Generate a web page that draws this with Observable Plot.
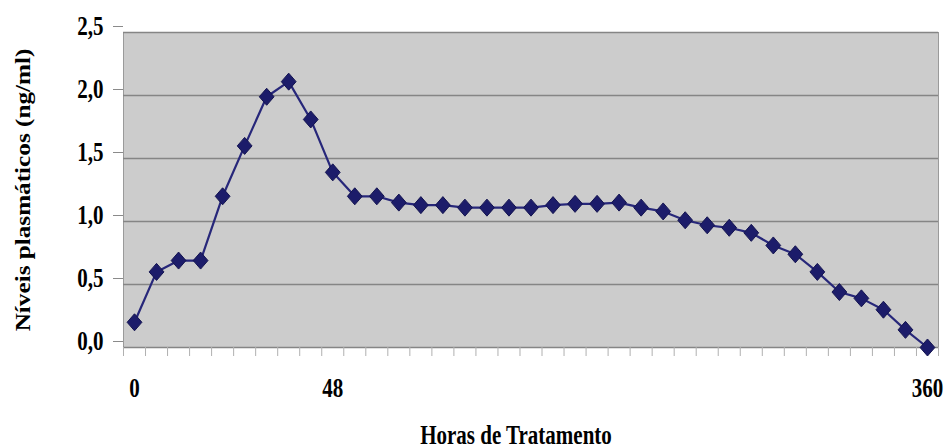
<!DOCTYPE html>
<html><head><meta charset="utf-8">
<script src="https://cdn.jsdelivr.net/npm/d3@7"></script>
<script src="https://cdn.jsdelivr.net/npm/@observablehq/plot@0.6"></script>
<style>body{margin:0;background:#fff}</style>
</head><body><div id="chart"></div>
<script>
// Plasma levels per category (37 sampling points)
const values = [0.20,0.60,0.69,0.69,1.20,1.60,1.99,2.11,1.81,1.39,1.20,1.20,1.15,1.13,1.13,1.11,1.11,1.11,1.11,1.13,1.14,1.14,1.15,1.11,1.08,1.01,0.97,0.95,0.91,0.81,0.74,0.60,0.44,0.39,0.30,0.14,0.00];
const xLabels = ["0","","","","","","","","","48","","","","","","","","","","","","","","","","","","","","","","","","","","","360"];
const yTicks = [0, 0.5, 1, 1.5, 2, 2.5];
const xTitle = "Horas de Tratamento";
const yTitle = "Níveis plasmáticos (ng/ml)";

const data = values.map((v, i) => ({i, v}));
const boundaries = d3.range(values.length + 1).map(i => i - 0.5);
const labeled = xLabels.map((l, i) => l ? i : null).filter(i => i !== null);

const diamond = {
  draw(ctx, size) {
    const w = Math.sqrt(size / Math.PI), h = w * 1.15;
    ctx.moveTo(0, -h); ctx.lineTo(w, 0); ctx.lineTo(0, h); ctx.lineTo(-w, 0); ctx.closePath();
  }
};

const font = "'Liberation Serif','Times New Roman',serif";
const chart = Plot.plot({
  width: 946, height: 448,
  marginLeft: 123, marginRight: 8, marginTop: 32, marginBottom: 101,
  x: {type: "linear", domain: [-0.5, values.length - 0.5]},
  y: {domain: [0, 2.5]},
  style: {fontFamily: font, fontWeight: "bold", color: "#000", background: "#fff"},
  marks: [
    Plot.frame({fill: "#cccccc", stroke: "#9a9a9a"}),
    Plot.ruleY(yTicks, {stroke: "#858585", strokeWidth: 1.5}),
    Plot.axisY({ticks: yTicks, tickSize: 10, tickPadding: 10, stroke: "#8a8a8a",
      tickFormat: d => d.toFixed(1).replace(".", ","), fontSize: 21, fontWeight: "bold", dy: -6,
      label: yTitle, labelAnchor: "center", labelOffset: 108, labelArrow: "none"}),
    Plot.axisX({ticks: boundaries, tickSize: 9, tickFormat: () => "", stroke: "#b0b0b0", label: null}),
    Plot.axisX({ticks: labeled, tickSize: 0, tickPadding: 31, tickFormat: i => xLabels[i],
      fontSize: 21, fontWeight: "bold", label: null}),
    Plot.text([xTitle], {frameAnchor: "bottom", lineAnchor: "bottom", dy: 96, dx: -15,
      fontSize: 21, fontWeight: "bold", fill: "#000"}),
    Plot.line(data, {x: "i", y: "v", stroke: "#27277a", strokeWidth: 2.2}),
    Plot.dot(data, {x: "i", y: "v", symbol: diamond, r: 7.4, fill: "#1c1c6a", stroke: "#141450", strokeWidth: 1})
  ]
});

chart.querySelectorAll("text").forEach(t => {
  const tr = t.getAttribute("transform") || "";
  const s = tr.includes("rotate") ? "scale(1.2,1)" : "scale(1,1.27)";
  if (tr) t.setAttribute("transform", tr + " " + s);
  else {
    const x = +t.getAttribute("x") || 0, y = +t.getAttribute("y") || 0;
    t.setAttribute("transform", `translate(${x},${y}) ${s} translate(${-x},${-y})`);
  }
});
document.getElementById("chart").appendChild(chart);
</script>
</body></html>
